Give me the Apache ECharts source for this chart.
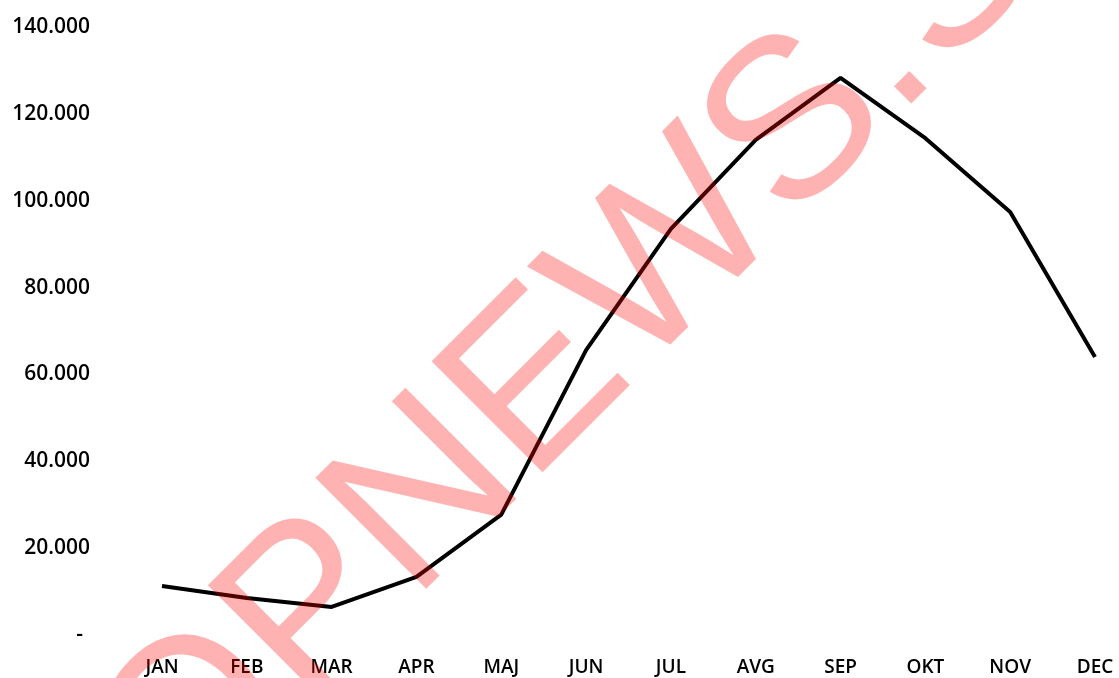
<!DOCTYPE html>
<html>
<head>
<meta charset="utf-8">
<script src="https://cdn.jsdelivr.net/npm/echarts@6/dist/echarts.min.js"></script>
<style>
html,body{margin:0;padding:0;background:#fff;}
#chart{width:1119px;height:678px;}
</style>
</head>
<body>
<div id="chart"></div>
<script>
const months = ['JAN','FEB','MAR','APR','MAJ','JUN','JUL','AVG','SEP','OKT','NOV','DEC'];
const values = [11300, 8500, 6450, 13400, 27700, 65600, 93500, 114000, 128300, 114400, 97400, 64000];
const yMin = 0, yMax = 140000, yStep = 20000;
const watermarkText = 'OPNEWS.S';

function fmt(v){
  if (v === 0) return '{d|-}';
  return (v/1000).toFixed(0) + '.000';
}

const chart = echarts.init(document.getElementById('chart'));
chart.setOption({
  backgroundColor: '#ffffff',
  animation: false,
  grid: {left: 162, right: 24, top: 27, bottom: 43, containLabel: false},
  xAxis: {
    type: 'category',
    data: months,
    boundaryGap: false,
    axisLine: {show: false},
    axisTick: {show: false},
    splitLine: {show: false},
    axisLabel: {
      color: '#000', fontFamily: 'Open Sans', fontSize: 19, fontWeight: 600,
      margin: 23, interval: 0
    }
  },
  yAxis: {
    type: 'value',
    min: yMin, max: yMax, interval: yStep,
    axisLine: {show: false},
    axisTick: {show: false},
    splitLine: {show: false},
    axisLabel: {
      color: '#000', fontFamily: 'Open Sans', fontSize: 21, fontWeight: 600,
      margin: 72, formatter: fmt,
      rich: {d: {color: '#000', fontFamily: 'Open Sans', fontSize: 21, fontWeight: 600, padding: [0, 7, 0, 0]}}
    }
  },
  series: [{
    type: 'line',
    data: values,
    symbol: 'none',
    lineStyle: {color: '#000', width: 4},
    z: 2
  }],
  graphic: [{
    type: 'text',
    x: 570, y: 356,
    rotation: 45 * Math.PI / 180,
    z: 100,
    silent: true,
    style: {
      text: watermarkText,
      font: '228px "Liberation Sans", Arial, sans-serif',
      fill: 'rgba(255,0,0,0.3)',
      align: 'center',
      verticalAlign: 'middle'
    }
  }]
});
</script>
</body>
</html>
